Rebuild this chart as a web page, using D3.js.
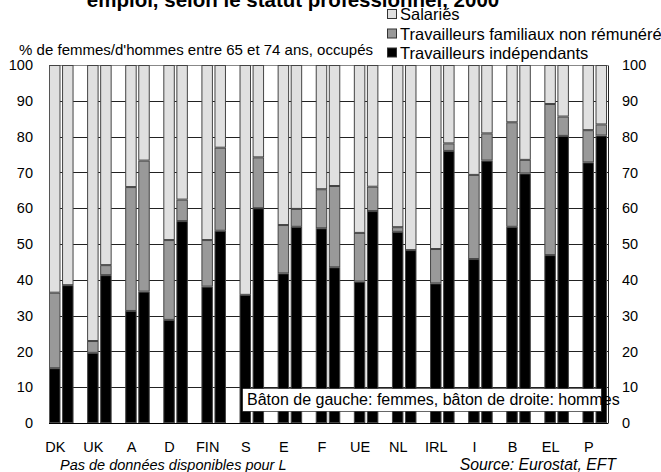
<!DOCTYPE html>
<html>
<head>
<meta charset="utf-8">
<script src="https://cdn.jsdelivr.net/npm/d3@7"></script>
<style>
  html, body { margin: 0; padding: 0; background: #fff; }
  svg { display: block; }
  text { font-family: "Liberation Sans", Arial, sans-serif; fill: #000; }
</style>
</head>
<body>
<svg id="chart" width="661" height="472"></svg>
<script>
const categories = ["DK","UK","A","D","FIN","S","E","F","UE","NL","IRL","I","B","EL","P"];
const sexes = ["femmes","hommes"];
// Travailleurs indépendants (%)
const independantsF = [15.3,19.6,31.3,28.8,38.1,35.8,41.8,54.4,39.5,53.4,39.0,45.8,54.8,46.9,72.8];
const independantsH = [38.5,41.3,36.7,56.4,53.7,60.0,54.8,43.5,59.2,48.3,76.0,73.3,69.7,80.2,80.3];
// Travailleurs familiaux non rémunérés (%)
const familiauxF = [21.1,3.3,34.6,22.3,13.0,0.0,13.5,10.9,13.6,1.3,9.6,23.5,29.2,42.2,9.0];
const familiauxH = [0.0,2.8,36.6,6.0,23.2,14.2,5.0,22.7,6.8,0.0,2.1,7.6,3.8,5.4,3.1];
const yTicks = [0,10,20,30,40,50,60,70,80,90,100];
const seriesNames = ["Travailleurs indépendants","Travailleurs familiaux non rémunéré","Salariés"];
const seriesColors = ["#000000","#999999","#e0e0e0"];

const svg = d3.select("#chart");
const pL = 49, pR = 608, pT = 65, pB = 423;

const y = d3.scaleLinear().domain([0,100]).range([pB, pT]);
const x = d3.scaleBand().domain(categories).range([pL, 607]).paddingInner(0.356).paddingOuter(0);
const xs = d3.scaleBand().domain(sexes).range([0, x.bandwidth()]).paddingInner(0.12);

const rows = [];
categories.forEach((c,i) => {
  [["femmes", independantsF[i], familiauxF[i]], ["hommes", independantsH[i], familiauxH[i]]].forEach(([s, ind, fam]) => {
    rows.push({cat:c, sex:s, vals:[ind, fam, 100 - ind - fam]});
  });
});

svg.append("line").attr("x1", pL).attr("x2", pR).attr("y1", pT+0.5).attr("y2", pT+0.5).attr("stroke", "#888");

svg.append("g").selectAll("line").data(yTicks.filter(d => d>0 && d<100)).join("line")
  .attr("x1", pL).attr("x2", pR)
  .attr("y1", d => Math.round(y(d))+0.5).attr("y2", d => Math.round(y(d))+0.5)
  .attr("stroke", "#222").attr("stroke-width", 1);

const gb = svg.append("g");
rows.forEach(r => {
  let acc = 0;
  r.vals.forEach((v, k) => {
    if (v <= 0) return;
    const y0 = y(acc), y1 = y(acc + v);
    gb.append("rect")
      .attr("x", x(r.cat) + xs(r.sex) + 0.5)
      .attr("y", y1 + 0.5)
      .attr("width", xs.bandwidth() - 1)
      .attr("height", Math.max(0, y0 - y1 - 1))
      .attr("fill", seriesColors[k])
      .attr("stroke", "#444").attr("stroke-width", 1);
    acc += v;
  });
});

const yAxisL = d3.axisLeft(y).tickValues(yTicks).tickSize(0).tickPadding(16);
svg.append("g").attr("transform", `translate(${pL},0)`).call(yAxisL)
  .call(a => a.select(".domain").attr("stroke", "#555"))
  .call(a => a.selectAll("text").attr("font-size", 14.5).attr("font-family", "Liberation Sans, Arial, sans-serif"));
const yAxisR = d3.axisRight(y).tickValues(yTicks).tickSize(0).tickPadding(14);
svg.append("g").attr("transform", `translate(${pR},0)`).call(yAxisR)
  .call(a => a.select(".domain").attr("stroke", "#222"))
  .call(a => a.selectAll("text").attr("font-size", 14.5).attr("font-family", "Liberation Sans, Arial, sans-serif"));
svg.append("line").attr("x1", pL).attr("x2", pR).attr("y1", pB+0.5).attr("y2", pB+0.5).attr("stroke", "#000");

// category labels (slightly left of the bar pairs, as in the original)
const xg = svg.append("g").attr("transform", `translate(-6,${pB+19})`).call(d3.axisBottom(x).tickSize(0).tickPadding(0));
xg.select(".domain").remove();
xg.selectAll("text").attr("font-size", 14.5).attr("font-family", "Liberation Sans, Arial, sans-serif");

const box = svg.append("g");
box.append("rect").attr("x", 242.5).attr("y", 388.5).attr("width", 359).attr("height", 23).attr("fill", "#fff").attr("stroke", "#000").attr("stroke-width", 0.6);
box.append("text").attr("x", 247).attr("y", 405).attr("font-size", 16).text("Bâton de gauche: femmes, bâton de droite: hommes");

svg.append("text").attr("x", 293).attr("y", 7).attr("text-anchor", "middle")
  .attr("font-size", 20.5).attr("font-weight", "bold")
  .text("emploi, selon le statut professionnel, 2000");

svg.append("text").attr("x", 373).attr("y", 55).attr("font-size", 15).attr("text-anchor", "end")
  .text("% de femmes/d'hommes entre 65 et 74 ans, occupés");

const legendOrder = [2,1,0];
const legY = [20, 39.5, 58.5];
legendOrder.forEach((k, i) => {
  svg.append("rect").attr("x", 387.5).attr("y", legY[i]-10.5).attr("width", 9).attr("height", 9)
    .attr("fill", seriesColors[k]).attr("stroke", "#333");
  svg.append("text").attr("x", 400).attr("y", legY[i]).attr("font-size", 16.5).text(seriesNames[k]);
});

svg.append("text").attr("x", 60).attr("y", 470).attr("font-size", 14.5).attr("font-style", "italic")
  .text("Pas de données disponibles pour L");
svg.append("text").attr("x", 616).attr("y", 470).attr("font-size", 15.8).attr("font-style", "italic").attr("text-anchor", "end")
  .text("Source: Eurostat, EFT");
</script>
</body>
</html>
